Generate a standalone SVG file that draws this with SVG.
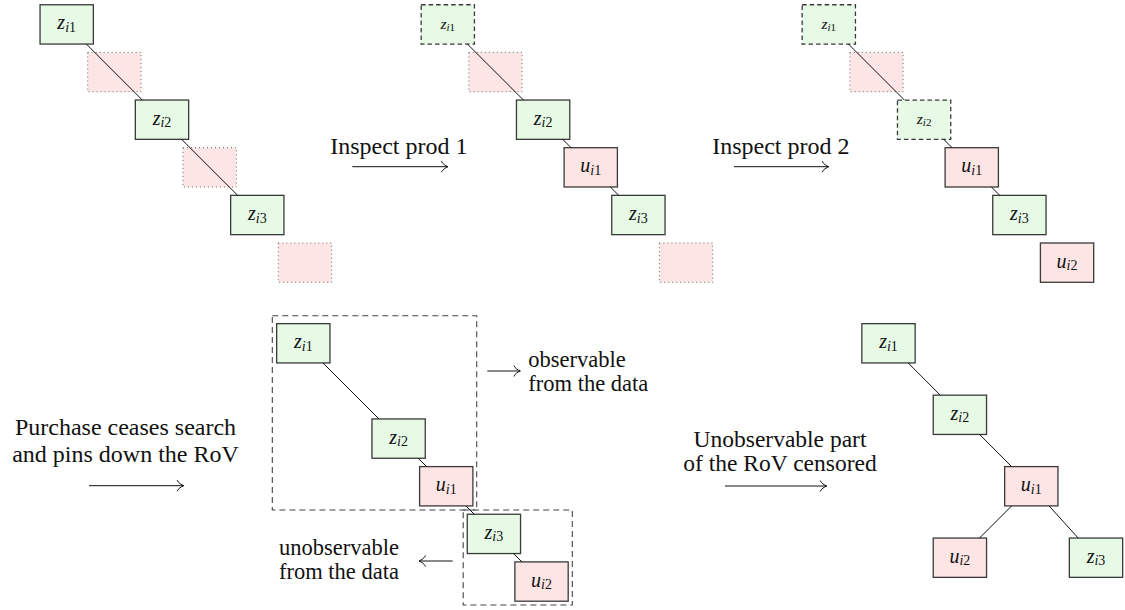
<svg xmlns="http://www.w3.org/2000/svg" width="1125" height="610" viewBox="0 0 1125 610">
<defs>
<style>
.g{fill:#e6fae6;stroke:#3a3a3a;stroke-width:1.3}
.r{fill:#fde5e5;stroke:#3a3a3a;stroke-width:1.3}
.ds{stroke-dasharray:4.5 3}
.dot{fill:#fde5e5;stroke:#666;stroke-width:1;stroke-dasharray:1 3}
.lbl{font-family:"Liberation Serif","Times New Roman",serif;font-size:24px;fill:#111}
.lb2{font-family:"Liberation Serif","Times New Roman",serif;font-size:23.5px;fill:#111}
.lb3{font-family:"Liberation Serif","Times New Roman",serif;font-size:22.5px;fill:#111}
.nt{font-family:"Liberation Serif","Times New Roman",serif;font-size:20px;text-anchor:middle;fill:#111}
.sm{font-size:15.5px}
.it{font-style:italic}
.sb{font-size:14px}
.sbs{font-size:11px}
.edge{stroke:#111;stroke-width:1;fill:none}
.region{fill:none;stroke:#444;stroke-width:1.1;stroke-dasharray:6 4}
.arrow{stroke:#111;stroke-width:1;fill:none}
</style>
<marker id="arr" viewBox="-8 -7 9 14" refX="0" refY="0" markerWidth="9" markerHeight="14" markerUnits="userSpaceOnUse" orient="auto">
<path d="M-6.5,-5.5 C-5.5,-2.8 -2.2,-0.9 0,0 C-2.2,0.9 -5.5,2.8 -6.5,5.5" fill="none" stroke="#111" stroke-width="1"/>
</marker>
</defs>

<!-- Top-left panel -->
<g id="tl-z1"><rect class="g" x="40.05" y="4.75" width="53.3" height="39.3"/><text class="nt" x="66.7" y="29.4"><tspan class="it">z</tspan><tspan class="it sb" dy="2.5">i</tspan><tspan class="sb">1</tspan></text></g>
<g id="tl-p1"><rect class="dot" x="87.7" y="52.4" width="53.3" height="39.3"/></g>
<g id="tl-z2"><rect class="g" x="135.35" y="100.05" width="53.3" height="39.3"/><text class="nt" x="162" y="124.7"><tspan class="it">z</tspan><tspan class="it sb" dy="2.5">i</tspan><tspan class="sb">2</tspan></text></g>
<g id="tl-p2"><rect class="dot" x="183" y="147.7" width="53.3" height="39.3"/></g>
<g id="tl-z3"><rect class="g" x="230.65" y="195.35" width="53.3" height="39.3"/><text class="nt" x="257.3" y="220"><tspan class="it">z</tspan><tspan class="it sb" dy="2.5">i</tspan><tspan class="sb">3</tspan></text></g>
<g id="tl-p3"><rect class="dot" x="278.3" y="243" width="53.3" height="39.3"/></g>

<!-- Top-middle panel -->
<g id="tm-z1"><rect class="g ds" x="421.15" y="4.75" width="53.3" height="39.3"/><text class="nt sm" x="447.8" y="28.9"><tspan class="it">z</tspan><tspan class="it sbs" dy="2">i</tspan><tspan class="sbs">1</tspan></text></g>
<g id="tm-p1"><rect class="dot" x="468.8" y="52.4" width="53.3" height="39.3"/></g>
<g id="tm-z2"><rect class="g" x="516.45" y="100.05" width="53.3" height="39.3"/><text class="nt" x="543.1" y="124.7"><tspan class="it">z</tspan><tspan class="it sb" dy="2.5">i</tspan><tspan class="sb">2</tspan></text></g>
<g id="tm-u1"><rect class="r" x="564.1" y="147.7" width="53.3" height="39.3"/><text class="nt" x="590.75" y="172.35"><tspan class="it">u</tspan><tspan class="it sb" dy="2.5">i</tspan><tspan class="sb">1</tspan></text></g>
<g id="tm-z3"><rect class="g" x="611.75" y="195.35" width="53.3" height="39.3"/><text class="nt" x="638.4" y="220"><tspan class="it">z</tspan><tspan class="it sb" dy="2.5">i</tspan><tspan class="sb">3</tspan></text></g>
<g id="tm-p2"><rect class="dot" x="659.4" y="243" width="53.3" height="39.3"/></g>

<!-- Top-right panel -->
<g id="tr-z1"><rect class="g ds" x="802.15" y="4.75" width="53.3" height="39.3"/><text class="nt sm" x="828.8" y="28.9"><tspan class="it">z</tspan><tspan class="it sbs" dy="2">i</tspan><tspan class="sbs">1</tspan></text></g>
<g id="tr-p1"><rect class="dot" x="849.8" y="52.4" width="53.3" height="39.3"/></g>
<g id="tr-z2"><rect class="g ds" x="897.45" y="100.05" width="53.3" height="39.3"/><text class="nt sm" x="924.1" y="124.2"><tspan class="it">z</tspan><tspan class="it sbs" dy="2">i</tspan><tspan class="sbs">2</tspan></text></g>
<g id="tr-u1"><rect class="r" x="945.1" y="147.7" width="53.3" height="39.3"/><text class="nt" x="971.75" y="172.35"><tspan class="it">u</tspan><tspan class="it sb" dy="2.5">i</tspan><tspan class="sb">1</tspan></text></g>
<g id="tr-z3"><rect class="g" x="992.75" y="195.35" width="53.3" height="39.3"/><text class="nt" x="1019.4" y="220"><tspan class="it">z</tspan><tspan class="it sb" dy="2.5">i</tspan><tspan class="sb">3</tspan></text></g>
<g id="tr-u2"><rect class="r" x="1040.4" y="243" width="53.3" height="39.3"/><text class="nt" x="1067.05" y="267.65"><tspan class="it">u</tspan><tspan class="it sb" dy="2.5">i</tspan><tspan class="sb">2</tspan></text></g>

<!-- Bottom-left panel -->
<g id="bl-obs-region"><rect class="region" x="272.3" y="315.7" width="204.4" height="194.3"/></g>
<g id="bl-unobs-region"><rect class="region" x="463.2" y="510" width="109.1" height="95"/></g>
<g id="bl-z1"><rect class="g" x="276.65" y="323.65" width="53.3" height="39.3"/><text class="nt" x="303.3" y="348.3"><tspan class="it">z</tspan><tspan class="it sb" dy="2.5">i</tspan><tspan class="sb">1</tspan></text></g>
<g id="bl-z2"><rect class="g" x="371.95" y="418.95" width="53.3" height="39.3"/><text class="nt" x="398.6" y="443.6"><tspan class="it">z</tspan><tspan class="it sb" dy="2.5">i</tspan><tspan class="sb">2</tspan></text></g>
<g id="bl-u1"><rect class="r" x="419.6" y="466.6" width="53.3" height="39.3"/><text class="nt" x="446.25" y="491.25"><tspan class="it">u</tspan><tspan class="it sb" dy="2.5">i</tspan><tspan class="sb">1</tspan></text></g>
<g id="bl-z3"><rect class="g" x="467.25" y="514.25" width="53.3" height="39.3"/><text class="nt" x="493.9" y="538.9"><tspan class="it">z</tspan><tspan class="it sb" dy="2.5">i</tspan><tspan class="sb">3</tspan></text></g>
<g id="bl-u2"><rect class="r" x="514.9" y="561.9" width="53.3" height="39.3"/><text class="nt" x="541.55" y="586.55"><tspan class="it">u</tspan><tspan class="it sb" dy="2.5">i</tspan><tspan class="sb">2</tspan></text></g>

<!-- Bottom-right panel -->
<g id="br-z1"><rect class="g" x="861.85" y="323.65" width="53.3" height="39.3"/><text class="nt" x="888.5" y="348.3"><tspan class="it">z</tspan><tspan class="it sb" dy="2.5">i</tspan><tspan class="sb">1</tspan></text></g>
<g id="br-z2"><rect class="g" x="933.25" y="395.15" width="53.3" height="39.3"/><text class="nt" x="959.9" y="419.8"><tspan class="it">z</tspan><tspan class="it sb" dy="2.5">i</tspan><tspan class="sb">2</tspan></text></g>
<g id="br-u1"><rect class="r" x="1004.65" y="466.6" width="53.3" height="39.3"/><text class="nt" x="1031.3" y="491.25"><tspan class="it">u</tspan><tspan class="it sb" dy="2.5">i</tspan><tspan class="sb">1</tspan></text></g>
<g id="br-u2"><rect class="r" x="933.25" y="538.05" width="53.3" height="39.3"/><text class="nt" x="959.9" y="562.7"><tspan class="it">u</tspan><tspan class="it sb" dy="2.5">i</tspan><tspan class="sb">2</tspan></text></g>
<g id="br-z3"><rect class="g" x="1069.35" y="538.05" width="53.3" height="39.3"/><text class="nt" x="1096" y="562.7"><tspan class="it">z</tspan><tspan class="it sb" dy="2.5">i</tspan><tspan class="sb">3</tspan></text></g>

<!-- Labels -->
<g id="label-inspect1"><text class="lbl" x="398.8" y="154" text-anchor="middle">Inspect prod 1</text></g>
<g id="label-inspect2"><text class="lbl" x="780.8" y="154" text-anchor="middle">Inspect prod 2</text></g>
<g id="label-purchase"><text class="lbl" x="125.5" y="435" text-anchor="middle">Purchase ceases search</text><text class="lbl" x="125.5" y="462" text-anchor="middle">and pins down the RoV</text></g>
<g id="label-censored"><text class="lb2" x="780" y="446.5" text-anchor="middle">Unobservable part</text><text class="lb2" x="780" y="471" text-anchor="middle">of the RoV censored</text></g>
<g id="label-observable"><text class="lb3" x="528.3" y="366.5">observable</text><text class="lb3" x="528.3" y="390.5">from the data</text></g>
<g id="label-unobservable"><text class="lb3" x="279" y="555">unobservable</text><text class="lb3" x="279" y="579">from the data</text></g>

<!-- Connectors -->
<g id="connectors">
<line class="edge" x1="86.35" y1="44.05" x2="142.35" y2="100.05"/>
<line class="edge" x1="181.65" y1="139.35" x2="237.65" y2="195.35"/>
<line class="edge" x1="467.45" y1="44.05" x2="523.45" y2="100.05"/>
<line class="edge" x1="562.75" y1="139.35" x2="571.1" y2="147.7"/>
<line class="edge" x1="610.4" y1="187" x2="618.75" y2="195.35"/>
<line class="edge" x1="848.45" y1="44.05" x2="904.45" y2="100.05"/>
<line class="edge" x1="943.75" y1="139.35" x2="952.1" y2="147.7"/>
<line class="edge" x1="991.4" y1="187" x2="999.75" y2="195.35"/>
<line class="edge" x1="322.95" y1="362.95" x2="378.95" y2="418.95"/>
<line class="edge" x1="418.25" y1="458.25" x2="426.6" y2="466.6"/>
<line class="edge" x1="465.9" y1="505.9" x2="474.25" y2="514.25"/>
<line class="edge" x1="513.55" y1="553.55" x2="521.9" y2="561.9"/>
<line class="edge" x1="908.15" y1="362.95" x2="940.25" y2="395.15"/>
<line class="edge" x1="979.55" y1="434.45" x2="1011.65" y2="466.6"/>
<line class="edge" x1="1011.65" y1="505.9" x2="979.55" y2="538.05"/>
<line class="edge" x1="1049.1" y1="505.9" x2="1078.2" y2="538.05"/>
<line class="arrow" x1="352.3" y1="166.7" x2="448" y2="166.7" marker-end="url(#arr)"/>
<line class="arrow" x1="734" y1="166.7" x2="828.7" y2="166.7" marker-end="url(#arr)"/>
<line class="arrow" x1="89" y1="485.7" x2="183.7" y2="485.7" marker-end="url(#arr)"/>
<line class="arrow" x1="725" y1="486" x2="826.7" y2="486" marker-end="url(#arr)"/>
<line class="arrow" x1="487.3" y1="371" x2="520.3" y2="371" marker-end="url(#arr)"/>
<line class="arrow" x1="452.7" y1="561" x2="419" y2="561" marker-end="url(#arr)"/>
</g>
</svg>
